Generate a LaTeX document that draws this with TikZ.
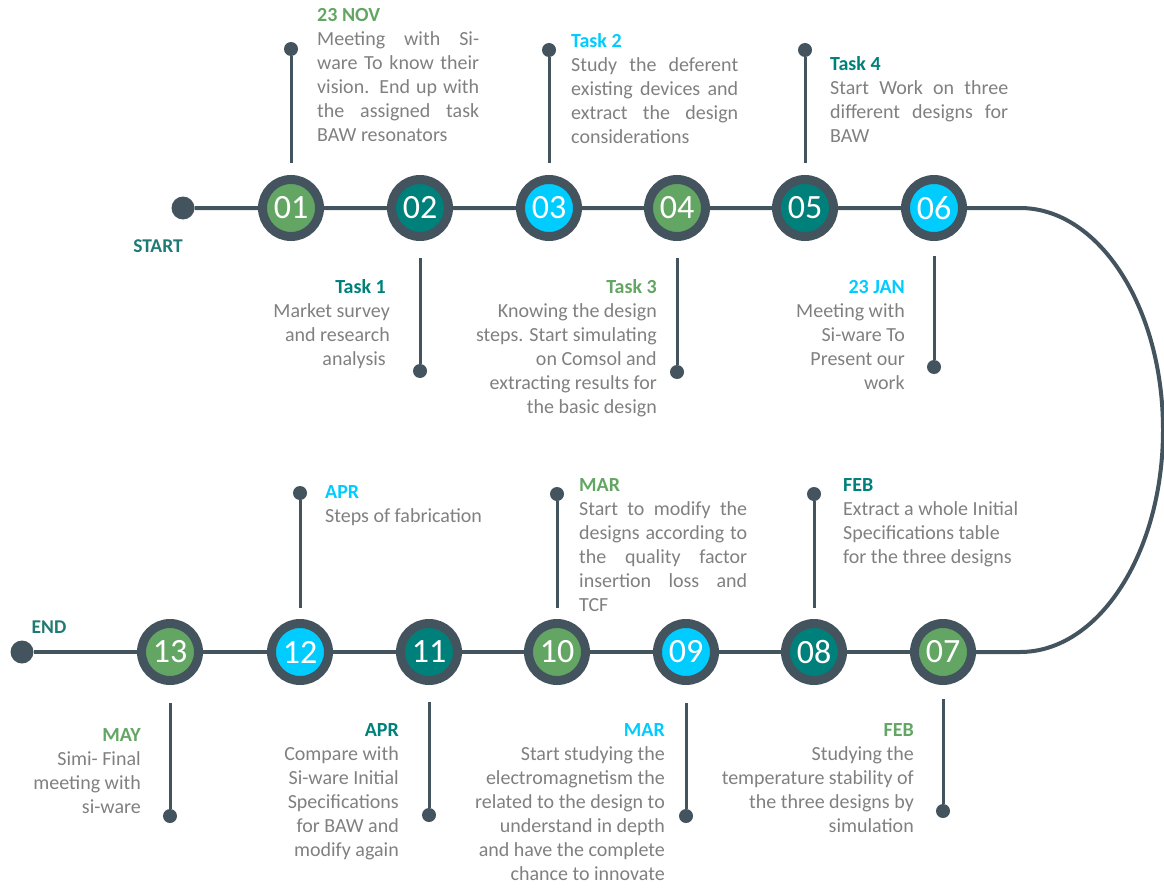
\documentclass[tikz,border=0pt]{standalone}
\usepackage{fontspec}
\setmainfont{Carlito}
\definecolor{dark}{HTML}{44545F}
\definecolor{cgreen}{HTML}{63A663}
\definecolor{cteal}{HTML}{00807B}
\definecolor{ccyan}{HTML}{00CCFF}
\definecolor{tgray}{HTML}{808080}
\definecolor{steal}{HTML}{1F7A74}
\newcommand{\JL}[2]{\makebox[#1][s]{#2}}
\newcommand{\TT}[2]{\rule{0pt}{18pt}{\bfseries\color{#1}#2}}
\begin{document}
\begin{tikzpicture}[x=1pt,y=-1pt,
  ring/.style={circle, draw=dark, line width=9pt, inner sep=0pt, minimum size=57pt, text=white, font=\fontsize{34}{34}\selectfont},
  pin/.style={circle, fill=dark, inner sep=0pt, minimum size=14pt},
  enddot/.style={circle, fill=dark, inner sep=0pt, minimum size=23pt},
  mainline/.style={draw=dark, line width=4pt},
  stem/.style={draw=dark, line width=3pt},
  txt/.style={inner sep=0pt, text=tgray, font=\fontsize{20}{24}\selectfont},
  lbl/.style={inner sep=0pt, text=steal, font=\fontsize{19.5}{20}\selectfont\bfseries}]
\useasboundingbox (0,0) rectangle (1164,888);
% circles top row
\node[ring, fill=cgreen] (c01) at (291,208) {01};
\node[ring, fill=cteal]  (c02) at (420,208) {02};
\node[ring, fill=ccyan]  (c03) at (549,208) {03};
\node[ring, fill=cgreen] (c04) at (677,208) {04};
\node[ring, fill=cteal]  (c05) at (805,208) {05};
\node[ring, fill=ccyan]  (c06) at (934,208) {06};
% circles bottom row
\node[ring, fill=cgreen] (c07) at (943,652) {07};
\node[ring, fill=cteal]  (c08) at (814,652) {08};
\node[ring, fill=ccyan]  (c09) at (686,652) {09};
\node[ring, fill=cgreen] (c10) at (557,652) {10};
\node[ring, fill=cteal]  (c11) at (429,652) {11};
\node[ring, fill=ccyan]  (c12) at (300,652) {12};
\node[ring, fill=cgreen] (c13) at (170,652) {13};
% start / end
\node[enddot] (start) at (183,208) {};
\node[enddot] (end) at (22,652) {};
\node[lbl] (startlbl) at (158,246) {START};
\node[lbl] (endlbl) at (49,627) {END};
\coordinate (ct) at (1020,208);
\coordinate (cb) at (1020,652);
% main line
\draw[mainline] (start) -- (c01) -- (c02) -- (c03) -- (c04) -- (c05) -- (c06) -- (ct)
  arc[start angle=90, end angle=-90, x radius=143pt, y radius=222pt] -- (c07);
\draw[mainline] (c07) -- (c08) -- (c09) -- (c10) -- (c11) -- (c12) -- (c13) -- (end);
% pins
\node[pin] (p01) at (291,49) {};
\node[pin] (p03) at (549,50) {};
\node[pin] (p05) at (805,50) {};
\node[pin] (p02) at (420,371) {};
\node[pin] (p04) at (677,372) {};
\node[pin] (p06) at (934,367) {};
\node[pin] (p12) at (300,493) {};
\node[pin] (p10) at (557,494) {};
\node[pin] (p08) at (814,494) {};
\node[pin] (p13) at (170,816) {};
\node[pin] (p11) at (429,815) {};
\node[pin] (p09) at (686,816) {};
\node[pin] (p07) at (943,811) {};
\draw[stem, shorten >=12pt] (p01) -- (c01);
\draw[stem, shorten >=12pt] (p03) -- (c03);
\draw[stem, shorten >=12pt] (p05) -- (c05);
\draw[stem, shorten <=17pt] (c02) -- (p02);
\draw[stem, shorten <=17pt] (c04) -- (p04);
\draw[stem, shorten <=15pt] (c06) -- (p06);
\draw[stem, shorten >=11pt] (p12) -- (c12);
\draw[stem, shorten >=11pt] (p10) -- (c10);
\draw[stem, shorten >=11pt] (p08) -- (c08);
\draw[stem, shorten <=18pt] (c13) -- (p13);
\draw[stem, shorten <=17pt] (c11) -- (p11);
\draw[stem, shorten <=18pt] (c09) -- (p09);
\draw[stem, shorten <=14pt] (c07) -- (p07);
% texts top row, above
\node[txt, anchor=north west, align=left] (t01) at (317,3) {\TT{cgreen}{23 NOV}\\
  \JL{162pt}{Meeting with Si-}\\ \JL{162pt}{ware To know their}\\ \JL{162pt}{vision. End up with}\\
  \JL{162pt}{the assigned task}\\ BAW resonators};
\node[txt, anchor=north west, align=left] (t03) at (571,29) {\TT{ccyan}{Task 2}\\
  \JL{167pt}{Study the deferent}\\ \JL{167pt}{existing devices and}\\ \JL{167pt}{extract the design}\\ considerations};
\node[txt, anchor=north west, align=left] (t05) at (830,52) {\TT{cteal}{Task 4}\\
  \JL{178pt}{Start Work on three}\\ \JL{178pt}{different designs for}\\ BAW};
% texts top row, below
\node[txt, anchor=north east, align=right] (t02) at (390,275) {\TT{cteal}{Task 1}\hspace*{4pt}\\
  Market survey\\ and research\\ analysis\hspace*{4pt}};
\node[txt, anchor=north east, align=right] (t04) at (657,275) {\TT{cgreen}{Task 3}\\
  Knowing the design\\ steps. Start simulating\\ on Comsol and\\ extracting results for\\ the basic design};
\node[txt, anchor=north east, align=right] (t06) at (905,275) {\TT{ccyan}{23 JAN}\\
  Meeting with\\ Si-ware To\\ Present our\\ work};
% texts bottom row, above
\node[txt, anchor=north west, align=left] (t12) at (325,480) {\TT{ccyan}{APR}\\ Steps of fabrication};
\node[txt, anchor=north west, align=left] (t10) at (579,473) {\TT{cgreen}{MAR}\\
  \JL{168pt}{Start to modify the}\\ \JL{168pt}{designs according to}\\ \JL{168pt}{the quality factor}\\
  \JL{168pt}{insertion loss and}\\ TCF};
\node[txt, anchor=north west, align=left] (t08) at (843,473) {\TT{cteal}{FEB}\\
  Extract a whole Initial\\ Specifications table\\ for the three designs};
% texts bottom row, below
\node[txt, anchor=north east, align=right] (t13) at (141,723) {\TT{cgreen}{MAY}\\
  Simi- Final\\ meeting with\\ si-ware};
\node[txt, anchor=north east, align=right] (t11) at (399,718) {\TT{cteal}{APR}\\
  Compare with\\ Si-ware Initial\\ Specifications\\ for BAW and\\ modify again};
\node[txt, anchor=north east, align=right] (t09) at (665,718) {\TT{ccyan}{MAR}\\
  Start studying the\\ electromagnetism the\\ related to the design to\\ understand in depth\\ and have the complete\\ chance to innovate};
\node[txt, anchor=north east, align=right] (t07) at (914,718) {\TT{cgreen}{FEB}\\
  Studying the\\ temperature stability of\\ the three designs by\\ simulation};
\end{tikzpicture}
\end{document}
